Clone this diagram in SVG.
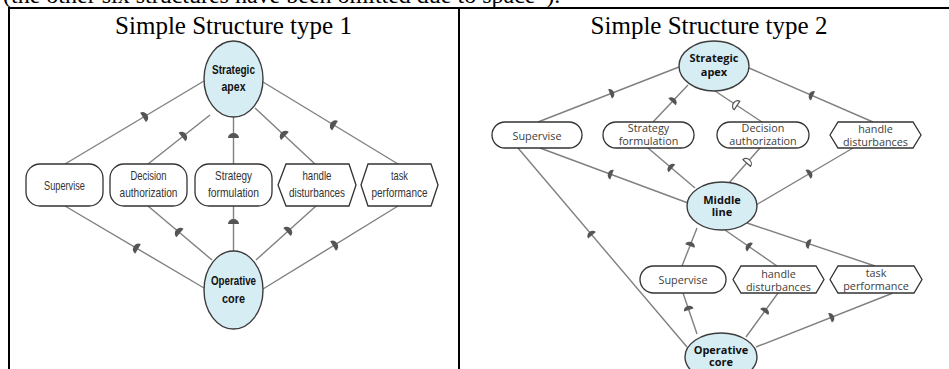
<svg xmlns="http://www.w3.org/2000/svg" xmlns:xlink="http://www.w3.org/1999/xlink" width="949" height="369" viewBox="0 0 949 369">
<style>
.doc{font-family:"Liberation Serif","Times New Roman",serif;fill:#000}
.ln{stroke:#808080;stroke-width:1.4;fill:none}
.box{fill:#fff;stroke:#333;stroke-width:1.3}
.ell{fill:#d7edf4;stroke:#3c3c3c;stroke-width:1.4}
.t1{font-family:"Liberation Sans",Arial,sans-serif;font-size:13px;fill:#333;text-anchor:middle}
.b1{font-family:"Liberation Sans",Arial,sans-serif;font-size:13px;font-weight:bold;fill:#111;text-anchor:middle}
.t2{font-family:"Open Sans","Noto Sans",sans-serif;font-size:10.8px;fill:#404040;text-anchor:middle}
.b2{font-family:"Open Sans","Noto Sans",sans-serif;font-size:11px;font-weight:bold;fill:#111;text-anchor:middle}
.mk{fill:#555}
.mh{fill:#fff;stroke:#555;stroke-width:1.2}
.tb{stroke:#000;stroke-width:2;fill:none}
</style>
<defs>
<path id="dome" d="M-5.5,0 A5.5,5 0 0 1 5.5,0 Z"/>
<path id="dome2" d="M-5,0 A5,4.2 0 0 1 5,0 Z"/>
</defs>

<text class="doc" x="3" y="3" font-size="24">(the other six structures have been omitted due to space”).</text>

<g id="table">
<line class="tb" x1="8" y1="8" x2="949" y2="8"/>
<line class="tb" x1="9" y1="8" x2="9" y2="369"/>
<line class="tb" x1="459" y1="8" x2="459" y2="369"/>
</g>

<text class="doc" x="233.5" y="34" font-size="25" text-anchor="middle">Simple Structure type 1</text>
<text class="doc" x="709" y="34" font-size="25" text-anchor="middle">Simple Structure type 2</text>

<!-- LEFT DIAGRAM connectors -->
<g id="connectors-left">
<line class="ln" x1="204" y1="81" x2="65" y2="164"/>
<line class="ln" x1="210" y1="115" x2="148" y2="164"/>
<line class="ln" x1="233.5" y1="117" x2="233.5" y2="164"/>
<line class="ln" x1="255" y1="108" x2="315" y2="164"/>
<line class="ln" x1="263" y1="82" x2="398" y2="164"/>
<line class="ln" x1="65" y1="206" x2="204" y2="288"/>
<line class="ln" x1="148" y1="206" x2="212" y2="260"/>
<line class="ln" x1="233.5" y1="206" x2="233.5" y2="251"/>
<line class="ln" x1="316" y1="206" x2="256" y2="260"/>
<line class="ln" x1="398" y1="206" x2="263" y2="289"/>
<use href="#dome" class="mk" transform="translate(143,117.4) rotate(59.2)"/>
<use href="#dome" class="mk" transform="translate(182,137) rotate(51.7)"/>
<use href="#dome" class="mk" transform="translate(233.5,138)"/>
<use href="#dome" class="mk" transform="translate(285,136) rotate(-47)"/>
<use href="#dome" class="mk" transform="translate(335,125.7) rotate(-58.7)"/>
<use href="#dome" class="mk" transform="translate(138,249) rotate(-59.5)"/>
<use href="#dome" class="mk" transform="translate(180,233) rotate(-49.8)"/>
<use href="#dome" class="mk" transform="translate(233.5,224)"/>
<use href="#dome" class="mk" transform="translate(287,232) rotate(48)"/>
<use href="#dome" class="mk" transform="translate(333,246) rotate(58.4)"/>
</g>

<g id="L-strategic-apex">
<ellipse class="ell" cx="233.5" cy="79" rx="29.5" ry="38"/>
<text class="b1" x="233.5" y="74" textLength="43" lengthAdjust="spacingAndGlyphs">Strategic</text>
<text class="b1" x="233.5" y="91" textLength="24" lengthAdjust="spacingAndGlyphs">apex</text>
</g>
<g id="L-supervise">
<rect class="box" x="26" y="164" width="77" height="42" rx="14"/>
<text class="t1" x="64.5" y="190" textLength="41" lengthAdjust="spacingAndGlyphs">Supervise</text>
</g>
<g id="L-decision-authorization">
<rect class="box" x="110" y="164" width="77" height="42" rx="14"/>
<text class="t1" x="148.5" y="180" textLength="36" lengthAdjust="spacingAndGlyphs">Decision</text>
<text class="t1" x="148.5" y="197" textLength="58" lengthAdjust="spacingAndGlyphs">authorization</text>
</g>
<g id="L-strategy-formulation">
<rect class="box" x="195" y="164" width="77" height="42" rx="14"/>
<text class="t1" x="233.5" y="180" textLength="37" lengthAdjust="spacingAndGlyphs">Strategy</text>
<text class="t1" x="233.5" y="197" textLength="51" lengthAdjust="spacingAndGlyphs">formulation</text>
</g>
<g id="L-handle-disturbances">
<polygon class="box" points="278,185 286,164 349,164 356,185 349,206 286,206"/>
<text class="t1" x="317" y="180" textLength="29" lengthAdjust="spacingAndGlyphs">handle</text>
<text class="t1" x="317" y="197" textLength="56" lengthAdjust="spacingAndGlyphs">disturbances</text>
</g>
<g id="L-task-performance">
<polygon class="box" points="361,185 368,164 431,164 438,185 431,206 368,206"/>
<text class="t1" x="399.5" y="180" textLength="17" lengthAdjust="spacingAndGlyphs">task</text>
<text class="t1" x="399.5" y="197" textLength="56" lengthAdjust="spacingAndGlyphs">performance</text>
</g>
<g id="L-operative-core">
<ellipse class="ell" cx="233.5" cy="290" rx="29.5" ry="39"/>
<text class="b1" x="233.5" y="285" textLength="45" lengthAdjust="spacingAndGlyphs">Operative</text>
<text class="b1" x="233.5" y="303" textLength="23" lengthAdjust="spacingAndGlyphs">core</text>
</g>

<!-- RIGHT DIAGRAM connectors -->
<g id="connectors-right">
<line class="ln" x1="679" y1="67" x2="538" y2="122"/>
<line class="ln" x1="688" y1="85" x2="653" y2="122"/>
<line class="ln" x1="715" y1="91" x2="762" y2="122"/>
<line class="ln" x1="749" y1="68" x2="873" y2="122"/>
<line class="ln" x1="648" y1="148" x2="695" y2="188"/>
<line class="ln" x1="760" y1="148" x2="729" y2="183"/>
<line class="ln" x1="540" y1="148" x2="688" y2="203"/>
<line class="ln" x1="853" y1="148" x2="756" y2="205"/>
<line class="ln" x1="518" y1="148" x2="687" y2="347"/>
<line class="ln" x1="697" y1="228" x2="682" y2="266"/>
<line class="ln" x1="725" y1="230" x2="777" y2="266"/>
<line class="ln" x1="747" y1="223" x2="875" y2="266"/>
<line class="ln" x1="683" y1="293" x2="697" y2="334"/>
<line class="ln" x1="778" y1="293" x2="746" y2="337"/>
<line class="ln" x1="893" y1="293" x2="756" y2="347"/>
<use href="#dome2" class="mk" transform="translate(610,93.9) rotate(68.7)"/>
<use href="#dome2" class="mk" transform="translate(672,101.9) rotate(43.4)"/>
<use href="#dome2" class="mh" transform="translate(737,105.5) rotate(-56.6)"/>
<use href="#dome2" class="mk" transform="translate(813,95.9) rotate(-66.5)"/>
<use href="#dome2" class="mk" transform="translate(672,168.4) rotate(-49.6)"/>
<use href="#dome2" class="mh" transform="translate(746.7,163) rotate(41.5)"/>
<use href="#dome2" class="mk" transform="translate(612,174.7) rotate(-69.6)"/>
<use href="#dome2" class="mk" transform="translate(808,174.4) rotate(59.6)"/>
<use href="#dome2" class="mk" transform="translate(592,235.2) rotate(-40.3)"/>
<use href="#dome2" class="mk" transform="translate(689.9,246) rotate(21.5)"/>
<use href="#dome2" class="mk" transform="translate(750,247.3) rotate(-55.3)"/>
<use href="#dome2" class="mk" transform="translate(810,244.2) rotate(-71.4)"/>
<use href="#dome2" class="mk" transform="translate(688.8,310) rotate(-18.9)"/>
<use href="#dome2" class="mk" transform="translate(764.2,312) rotate(36)"/>
<use href="#dome2" class="mk" transform="translate(830,317.8) rotate(68.5)"/>
</g>

<g id="R-strategic-apex">
<ellipse class="ell" cx="714" cy="66" rx="35" ry="25"/>
<text class="b2" x="714" y="62">Strategic</text>
<text class="b2" x="714" y="76">apex</text>
</g>
<g id="R-supervise-top">
<rect class="box" x="492" y="122" width="90" height="26" rx="13"/>
<text class="t2" x="537" y="139.5">Supervise</text>
</g>
<g id="R-strategy-formulation">
<rect class="box" x="603" y="122" width="91" height="26" rx="13"/>
<text class="t2" x="648.5" y="132">Strategy</text>
<text class="t2" x="648.5" y="144.5">formulation</text>
</g>
<g id="R-decision-authorization">
<rect class="box" x="717" y="122" width="92" height="26" rx="13"/>
<text class="t2" x="763" y="132">Decision</text>
<text class="t2" x="763" y="144.5">authorization</text>
</g>
<g id="R-handle-disturbances-top">
<polygon class="box" points="830,135 838,122 913,122 921,135 913,148 838,148"/>
<text class="t2" x="875.5" y="133">handle</text>
<text class="t2" x="875.5" y="145.5">disturbances</text>
</g>
<g id="R-middle-line">
<ellipse class="ell" cx="722" cy="206" rx="35" ry="24"/>
<text class="b2" x="722" y="203.5">Middle</text>
<text class="b2" x="722" y="216">line</text>
</g>
<g id="R-supervise-bottom">
<rect class="box" x="640" y="266" width="86" height="27" rx="13.5"/>
<text class="t2" x="683" y="283.5">Supervise</text>
</g>
<g id="R-handle-disturbances-bottom">
<polygon class="box" points="733,279.5 741,266 816,266 824,279.5 816,293 741,293"/>
<text class="t2" x="778.5" y="278">handle</text>
<text class="t2" x="778.5" y="290.5">disturbances</text>
</g>
<g id="R-task-performance">
<polygon class="box" points="830,279.5 838,266 914,266 922,279.5 914,293 838,293"/>
<text class="t2" x="876" y="277">task</text>
<text class="t2" x="876" y="289.5">performance</text>
</g>
<g id="R-operative-core">
<ellipse class="ell" cx="721" cy="357" rx="36" ry="24"/>
<text class="b2" x="721" y="353.5">Operative</text>
<text class="b2" x="721" y="366">core</text>
</g>
</svg>
